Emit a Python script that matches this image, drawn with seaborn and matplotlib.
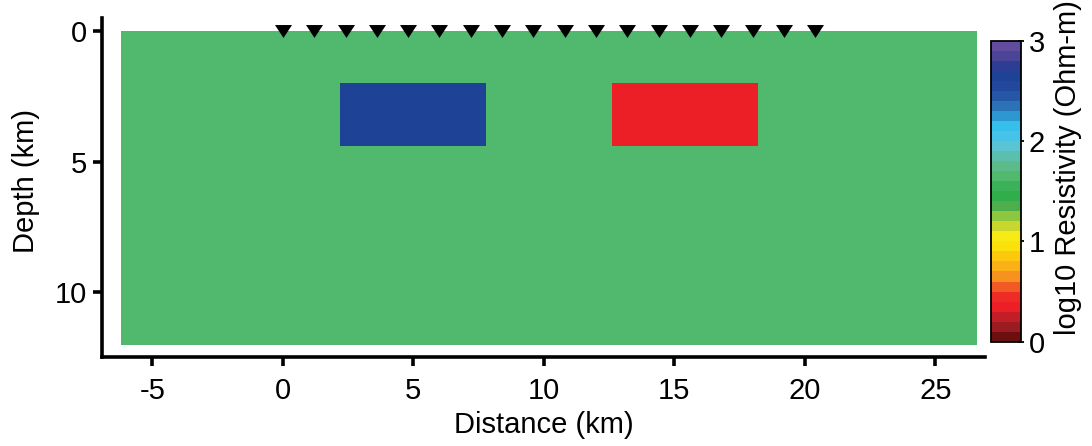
"""
Synthetic resistivity model: two blocks in a uniform half-space,
with the station line drawn on top.
"""

import numpy as np
import matplotlib
matplotlib.use("Agg")
import matplotlib.pyplot as plt
import seaborn as sns
from matplotlib.colors import ListedColormap


# model extent (km) and background log10 resistivity
model_x = [-6.2, 26.6]
model_depth = [0.0, 12.0]
background_log_rho = 1.65

# anomalous blocks (resistor, conductor)
block_x_start = [2.2, 12.6]
block_x_end = [7.8, 18.2]
block_depth_top = [2.0, 2.0]
block_depth_bottom = [4.4, 4.4]
block_log_rho = [2.65, 0.35]

# MT stations along the surface (km)
stations = [0.0, 1.2, 2.4, 3.6, 4.8, 6.0, 7.2, 8.4, 9.6,
            10.8, 12.0, 13.2, 14.4, 15.6, 16.8, 18.0, 19.2, 20.4]

x_ticks = [-5, 0, 5, 10, 15, 20, 25]
depth_ticks = [0, 5, 10]
cbar_ticks = [0, 1, 2, 3]

# discrete colour scale, 0.1 log-unit bands from 0 to 3
cmap_colors = [
    "#6d0e10", "#9a1b20", "#c11e27", "#ec1e26", "#ee2b24",
    "#f15a24", "#f7921e", "#fbb017", "#fdc90e", "#fbe10c",
    "#f6eb14", "#c8d72e", "#8dc63f", "#4dae4b", "#30ae4b",
    "#3bb25a", "#50b96e", "#5bbc8a", "#5cbfae", "#5bc4d3",
    "#45c3e8", "#36bfea", "#2d97d1", "#2b73b7", "#2657a7",
    "#21489c", "#1e4396", "#2c3e94", "#4b4499", "#624c9e",
]

CELL = 0.2


def build_grid():
    """
    Rasterise the block model on a regular mesh.
    """
    n_cols = int(round((model_x[1] - model_x[0]) / CELL))
    n_rows = int(round((model_depth[1] - model_depth[0]) / CELL))

    xc = model_x[0] + (np.arange(n_cols) + 0.5) * CELL
    zc = model_depth[0] + (np.arange(n_rows) + 0.5) * CELL

    grid = np.full((n_rows, n_cols), background_log_rho)

    for x0, x1, z0, z1, val in zip(block_x_start, block_x_end,
                                   block_depth_top, block_depth_bottom,
                                   block_log_rho):
        rows = (zc > z0) & (zc < z1)
        cols = (xc > x0) & (xc < x1)
        grid[np.ix_(rows, cols)] = val

    return grid


def col(x):
    return (np.asarray(x) - model_x[0]) / CELL


def row(z):
    return (np.asarray(z) - model_depth[0]) / CELL


def model_plot(grid):
    """
    Plot the model section with its colour bar.
    """
    sns.set_style("ticks")
    plt.rcParams["font.family"] = ["Liberation Sans", "DejaVu Sans"]
    plt.rcParams["text.color"] = "black"
    plt.rcParams["axes.labelcolor"] = "black"

    fig = plt.figure(figsize=(10.92, 4.46), dpi=100)
    ax = fig.add_axes([0.0934, 0.1996, 0.8086, 0.760])
    cax = fig.add_axes([991 / 1092, 1 - 341.7 / 446, 30 / 1092, 301 / 446])

    sns.heatmap(
        grid,
        ax=ax,
        cbar_ax=cax,
        cmap=ListedColormap(cmap_colors),
        vmin=0,
        vmax=3,
        xticklabels=False,
        yticklabels=False,
        cbar_kws={"ticks": cbar_ticks}
    )

    sns.scatterplot(
        x=col(stations),
        y=row(np.zeros(len(stations))),
        ax=ax,
        marker=[(-1, 0.76), (1, 0.76), (0, -0.76)],
        s=150,
        color="black",
        linewidth=0,
        clip_on=False,
        zorder=5
    )

    ax.set_xlim(col(-6.93), col(26.9))
    ax.set_ylim(row(12.47), row(-0.5))

    ax.set_xticks(col(x_ticks))
    ax.set_xticklabels([str(t) for t in x_ticks])
    ax.set_yticks(row(depth_ticks))
    ax.set_yticklabels([str(t) for t in depth_ticks])

    for side in ["left", "bottom"]:
        ax.spines[side].set_visible(True)
        ax.spines[side].set_linewidth(2.6)
        ax.spines[side].set_color("black")
    for side in ["top", "right"]:
        ax.spines[side].set_visible(False)

    ax.tick_params(axis="both", direction="out", length=6.5, width=2.6,
                   colors="black", labelsize=21)
    ax.tick_params(axis="x", pad=8)
    ax.tick_params(axis="y", pad=4.5)

    # scatterplot hid the labels because the heatmap had no tick labels
    ax.set_xlabel("Distance (km)", fontsize=21, color="black", visible=True)
    ax.xaxis.set_label_coords(0.5, -0.158)
    ax.set_ylabel("Depth (km)", fontsize=21, color="black", visible=True)
    ax.yaxis.set_label_coords(-0.07, 0.52)

    cbar = ax.collections[0].colorbar
    cbar.outline.set_visible(True)
    cbar.outline.set_linewidth(1.3)
    cbar.outline.set_edgecolor("black")
    cax.tick_params(direction="inout", length=5, width=1.3,
                    labelsize=21, pad=3, colors="black")
    cax.set_yticklabels([str(t) for t in cbar_ticks])

    fig.text(1068 / 1092, 1 - 168 / 446, "log10 Resistivity (Ohm-m)",
             rotation=90, ha="center", va="center", fontsize=21,
             color="black")

    fig.savefig("out.png", dpi=100, facecolor="white")


if __name__ == "__main__":

    grid = build_grid()

    model_plot(grid)
